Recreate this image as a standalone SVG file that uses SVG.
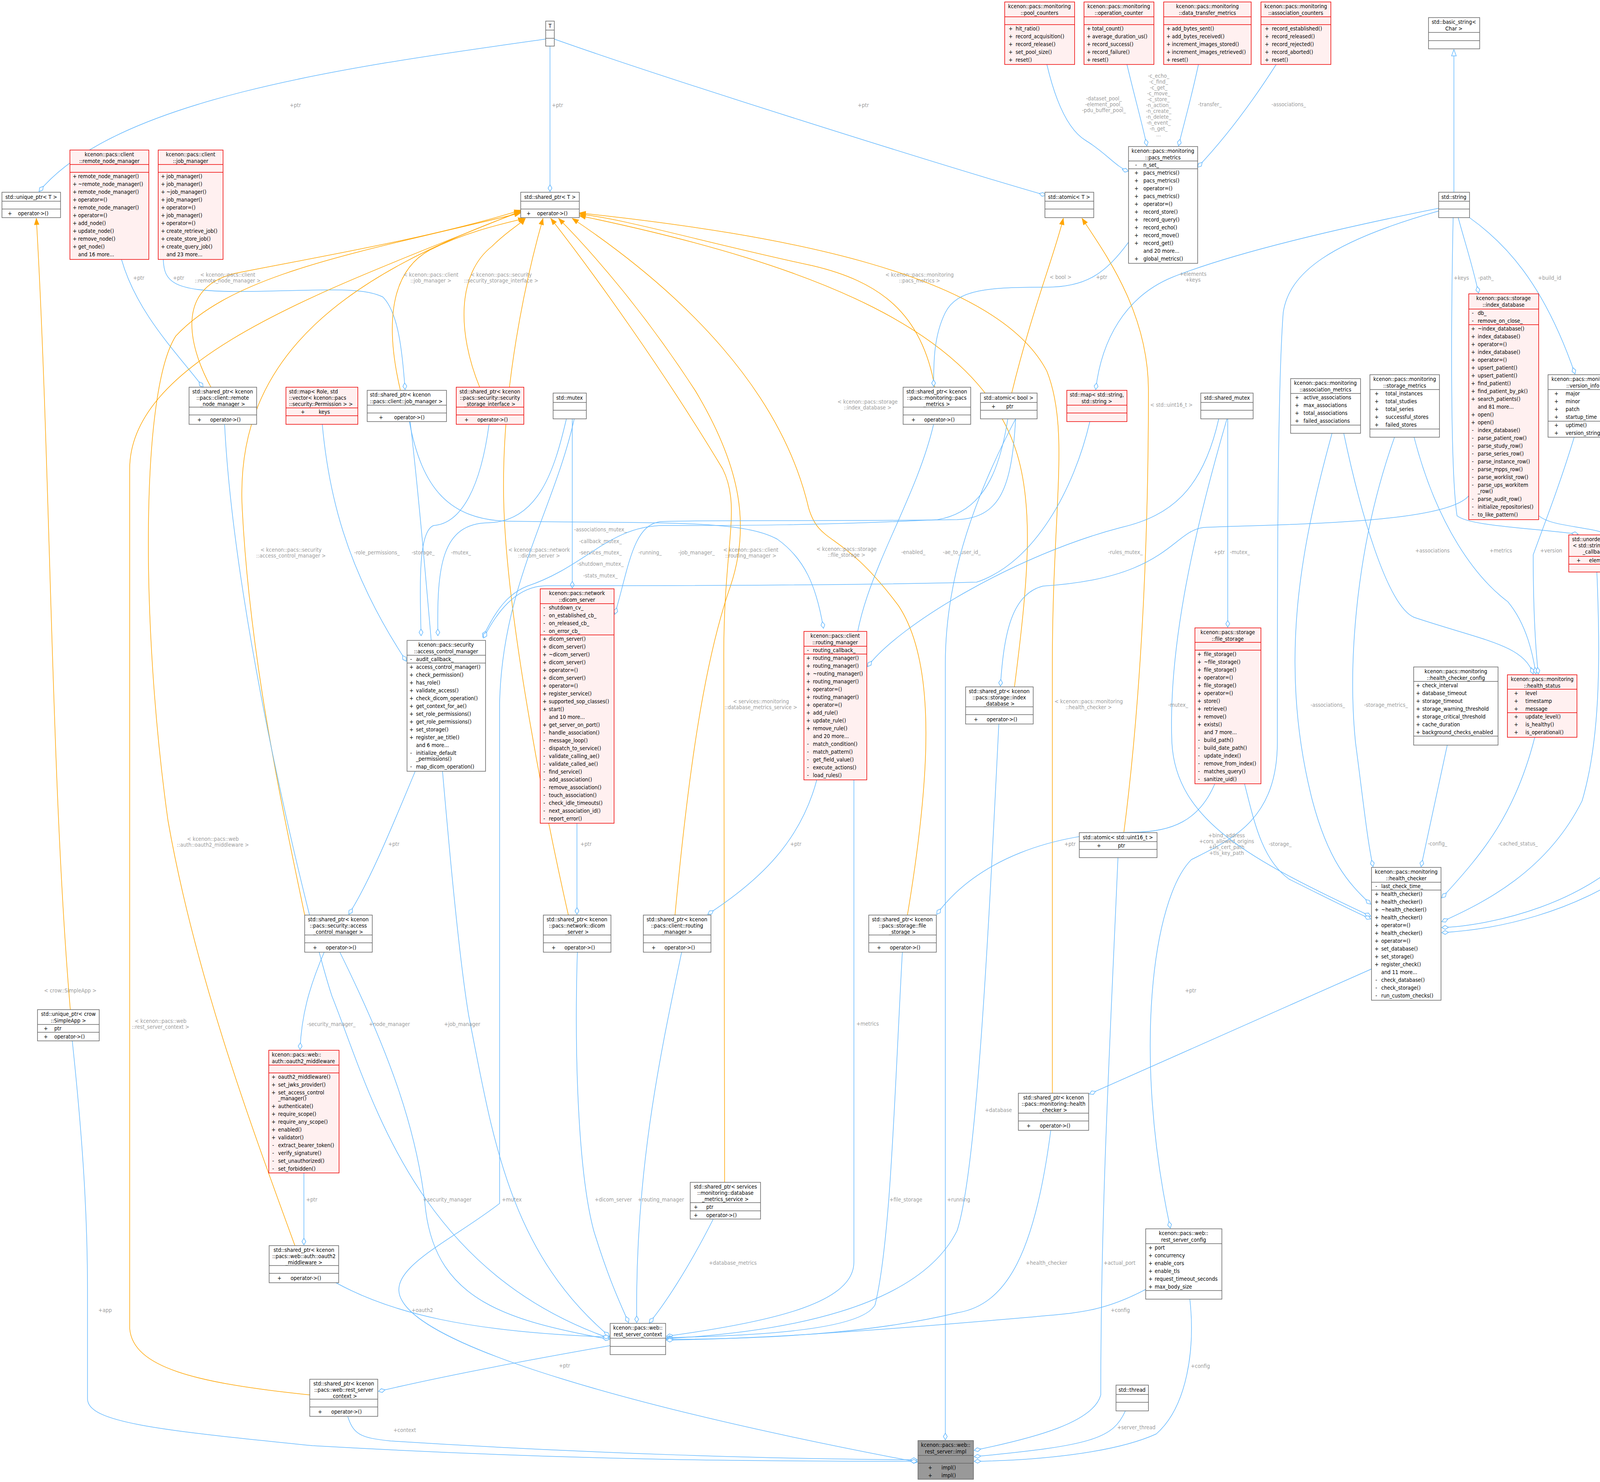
<svg xmlns="http://www.w3.org/2000/svg" width="4495" height="3793" viewBox="0 0 4495 3793">
<style>
text{font-family:"DejaVu Sans Condensed","DejaVu Sans",sans-serif;font-size:14px;fill:#000}
.t{text-anchor:middle}
.l{text-anchor:middle;fill:#9a9a9a;font-size:14px}
.b{fill:#fff;stroke:#666;stroke-width:1.5}
.r{fill:#fff0f0;stroke:#e00;stroke-width:1.5}
.g{fill:#999;stroke:#666;stroke-width:1.5}
.d{stroke:#666;stroke-width:1.5}
.dr{stroke:#e00;stroke-width:1.5}
#edges path{fill:none;stroke-width:1.5}
.a{stroke:#63b8ff;marker-end:url(#dia)}
.o{stroke:#ffa500;marker-end:url(#arr)}
.i{stroke:#63b8ff;marker-end:url(#inh)}
</style>
<defs>
<marker id="dia" markerUnits="userSpaceOnUse" markerWidth="20" markerHeight="12" refX="18" refY="6" orient="auto"><path d="M1,6 L9.5,1 L18,6 L9.5,11 Z" fill="#fff" stroke="#63b8ff" stroke-width="1.5"/></marker>
<marker id="arr" markerUnits="userSpaceOnUse" markerWidth="18" markerHeight="14" refX="17" refY="7" orient="auto"><path d="M1,1 L17,7 L1,13 Z" fill="#ffa500" stroke="#ffa500"/></marker>
<marker id="inh" markerUnits="userSpaceOnUse" markerWidth="18" markerHeight="14" refX="17" refY="7" orient="auto"><path d="M1,1 L17,7 L1,13 Z" fill="#fff" stroke="#63b8ff" stroke-width="1.5"/></marker>
</defs>
<rect width="4495" height="3793" fill="#fff"/>
<g id="edges">
<path class="a" d="M1397,100 C900,170 300,250 100,490"/><text class="l" x="756" y="274">+ptr</text>
<path class="a" d="M1408,118 L1408,490"/><text class="l" x="1427" y="274">+ptr</text>
<path class="a" d="M1419,100 C1700,200 2400,420 2677,500"/><text class="l" x="2210" y="274">+ptr</text>
<path class="o" d="M180,2584 C130,2000 130,1200 93,559"/><text class="l" x="180" y="2540">&lt; crow::SimpleApp &gt;</text>
<path class="a" d="M311,664 C350,800 450,900 520,991"/><text class="l" x="355" y="716">+ptr</text>
<path class="a" d="M418,664 C420,720 440,745 600,746 C800,746 920,730 980,760 C1020,800 1030,900 1037,997"/><text class="l" x="457" y="716">+ptr</text>
<path class="o" d="M540,991 C490,900 440,740 600,700 C800,660 1100,610 1333,538"/><text class="l" x="583" y="708">&lt; kcenon::pacs::client</text><text class="l" x="583" y="723">::remote_node_manager &gt;</text>
<path class="o" d="M1025,999 C990,850 990,700 1100,640 C1200,590 1300,570 1343,559"/><text class="l" x="1103" y="708">&lt; kcenon::pacs::client</text><text class="l" x="1103" y="723">::job_manager &gt;</text>
<path class="o" d="M1228,991 C1170,850 1170,700 1260,630 C1300,590 1330,575 1345,559"/><text class="l" x="1283" y="708">&lt; kcenon::pacs::security</text><text class="l" x="1283" y="723">::security_storage_interface &gt;</text>
<path class="o" d="M780,2342 C730,2100 640,1700 620,1300 C600,900 900,700 1333,542"/><text class="l" x="745" y="1412">&lt; kcenon::pacs::security</text><text class="l" x="745" y="1427">::access_control_manager &gt;</text>
<path class="o" d="M1455,2342 C1400,2100 1300,1600 1290,1300 C1280,1000 1350,700 1390,559"/><text class="l" x="1380" y="1412">&lt; kcenon::pacs::network</text><text class="l" x="1380" y="1427">::dicom_server &gt;</text>
<path class="o" d="M1728,2342 C1760,2000 1800,1700 1870,1500 C1920,1350 1900,1200 1780,1000 C1650,800 1520,650 1430,559"/><text class="l" x="1922" y="1412">&lt; kcenon::pacs::client</text><text class="l" x="1922" y="1427">::routing_manager &gt;</text>
<path class="o" d="M2323,2342 C2380,2000 2400,1700 2300,1550 C2150,1350 2100,1400 2070,1300 C2000,1000 1750,750 1465,559"/><text class="l" x="2167" y="1410">&lt; kcenon::pacs::storage</text><text class="l" x="2167" y="1425">::file_storage &gt;</text>
<path class="o" d="M2597,1758 C2630,1500 2650,1300 2600,1150 C2500,850 2100,680 1483,552"/><text class="l" x="2221" y="1033">&lt; kcenon::pacs::storage</text><text class="l" x="2221" y="1048">::index_database &gt;</text>
<path class="o" d="M2393,991 C2360,800 2250,720 2080,680 C1800,620 1600,560 1483,548"/><text class="l" x="2354" y="708">&lt; kcenon::pacs::monitoring</text><text class="l" x="2354" y="723">::pacs_metrics &gt;</text>
<path class="o" d="M2694,2798 L2694,1700 C2694,1300 2740,1100 2680,950 C2550,700 2000,600 1483,545"/><text class="l" x="2787" y="1800">&lt; kcenon::pacs::monitoring</text><text class="l" x="2787" y="1815">::health_checker &gt;</text>
<path class="o" d="M1855,3026 L1853,1700 C1850,1400 1900,1300 1850,1200 C1700,950 1520,700 1410,559"/><text class="l" x="1948" y="1800">&lt; services::monitoring</text><text class="l" x="1948" y="1815">::database_metrics_service &gt;</text>
<path class="o" d="M793,3570 C500,3540 340,3500 332,3400 L332,1200 C332,900 900,720 1333,540"/><text class="l" x="411" y="2618">&lt; kcenon::pacs::web</text><text class="l" x="411" y="2633">::rest_server_context &gt;</text>
<path class="o" d="M755,3188 C650,2900 500,2500 430,2100 C360,1600 360,1000 450,860 C600,700 900,650 1333,545"/><text class="l" x="545" y="2152">&lt; kcenon::pacs::web</text><text class="l" x="545" y="2167">::auth::oauth2_middleware &gt;</text>
<path class="o" d="M2590,1006 C2640,800 2700,650 2722,559"/><text class="l" x="2715" y="714">&lt; bool &gt;</text>
<path class="o" d="M2877,2131 C2920,1800 2940,1400 2940,1000 C2940,800 2830,650 2770,559"/><text class="l" x="2999" y="1041">&lt; std::uint16_t &gt;</text>
<path class="a" d="M2680,165 C2700,250 2730,330 2780,360 C2830,390 2860,430 2889,438"/><text class="l" x="2826" y="257">-dataset_pool_</text><text class="l" x="2826" y="272">-element_pool_</text><text class="l" x="2826" y="287">-pdu_buffer_pool_</text>
<path class="a" d="M2885,165 C2905,250 2925,320 2936,373"/>
<text class="l" x="2966" y="199">-c_echo_</text><text class="l" x="2966" y="214">-c_find_</text><text class="l" x="2966" y="229">-c_get_</text><text class="l" x="2966" y="244">-c_move_</text><text class="l" x="2966" y="259">-c_store_</text><text class="l" x="2966" y="274">-n_action_</text><text class="l" x="2966" y="289">-n_create_</text><text class="l" x="2966" y="304">-n_delete_</text><text class="l" x="2966" y="319">-n_event_</text><text class="l" x="2966" y="334">-n_get_</text><text class="l" x="2966" y="349">...</text>
<path class="a" d="M3068,165 C3050,250 3030,320 3017,373"/><text class="l" x="3097" y="272">-transfer_</text>
<path class="a" d="M3267,165 C3200,270 3130,360 3066,428"/><text class="l" x="3299" y="272">-associations_</text>
<path class="a" d="M2889,620 C2830,700 2780,735 2680,735 C2530,735 2450,740 2420,800 C2390,860 2390,930 2390,989"/><text class="l" x="2820" y="714">+ptr</text>
<path class="i" d="M3722,492 L3722,127"/>
<path class="a" d="M3733,557 C3750,620 3770,680 3785,750"/><text class="l" x="3804" y="716">-path_</text>
<path class="a" d="M3762,557 C3850,620 3950,720 4032,957"/><text class="l" x="3967" y="716">+build_id</text>
<path class="a" d="M3683,533 C3400,590 3150,650 3000,710 C2880,760 2820,870 2805,997"/><text class="l" x="3054" y="706">+elements</text><text class="l" x="3054" y="721">+keys</text>
<path class="a" d="M3720,557 C3715,800 3712,1200 3730,1320 C3760,1345 3900,1350 4040,1367"/><text class="l" x="3741" y="716">+keys</text>
<path class="a" d="M3683,540 C3400,620 3300,700 3285,800 C3270,1000 3270,1500 3270,1900 C3270,2100 3150,2150 3050,2200 C2950,2300 2900,2700 2996,3143"/><text class="l" x="3140" y="2143">+bind_address</text><text class="l" x="3140" y="2158">+cors_allowed_origins</text><text class="l" x="3140" y="2173">+tls_cert_path</text><text class="l" x="3140" y="2188">+tls_key_path</text>
<path class="a" d="M3141,1072 C3060,1350 2990,1650 3000,1900 C3010,2100 3200,2200 3509,2345"/><text class="l" x="3016" y="1809">-mutex_</text>
<path class="a" d="M3143,1072 L3143,1605"/><text class="l" x="3174" y="1418">-mutex_</text>
<path class="a" d="M3760,1269 C3700,1340 3300,1341 3081,1350 C3000,1360 2990,1480 2670,1500 C2590,1520 2570,1620 2561,1756"/><text class="l" x="3121" y="1418">+ptr</text>
<path class="a" d="M3120,1072 C3080,1250 3000,1320 2870,1350 C2600,1420 2300,1600 2221,1706"/><text class="l" x="2881" y="1418">-rules_mutex_</text>
<path class="a" d="M1450,1072 C1420,1200 1380,1335 1250,1338 C1130,1340 1118,1450 1121,1627"/><text class="l" x="1180" y="1419">-mutex_</text>
<path class="a" d="M1465,1072 L1465,1505"/><text class="l" x="1537" y="1360">-associations_mutex_</text><text class="l" x="1537" y="1390">-callback_mutex_</text><text class="l" x="1537" y="1419">-services_mutex_</text><text class="l" x="1537" y="1448">-shutdown_mutex_</text><text class="l" x="1537" y="1478">-stats_mutex_</text>
<path class="a" d="M1470,1072 C1420,1300 1285,1500 1279,1800 L1279,3080 C1150,3180 980,3250 1030,3330 C1100,3450 1600,3600 2348,3742"/><text class="l" x="1310" y="3075">+mutex</text>
<path class="a" d="M1063,1974 C1010,2100 950,2250 893,2340"/><text class="l" x="1008" y="2165">+ptr</text>
<path class="a" d="M825,1086 C840,1250 880,1450 1040,1692"/><text class="l" x="965" y="1419">-role_permissions_</text>
<path class="a" d="M1252,1086 C1230,1250 1180,1340 1110,1345 C1070,1360 1075,1500 1078,1627"/><text class="l" x="1083" y="1419">-storage_</text>
<path class="a" d="M2580,1072 C2560,1200 2520,1310 2400,1330 C2100,1345 1900,1345 1700,1345 C1560,1345 1500,1450 1350,1500 C1300,1520 1270,1560 1236,1631"/><text class="l" x="2338" y="1418">-enabled_</text>
<path class="a" d="M2790,1079 C2750,1250 2650,1440 2500,1490 C2100,1500 1600,1499 1400,1499 C1320,1499 1270,1570 1238,1633"/><text class="l" x="2462" y="1418">-ae_to_user_id_</text>
<path class="a" d="M2600,1072 C2590,1250 2560,1325 2450,1330 C2100,1335 1800,1330 1690,1335 C1620,1345 1610,1450 1574,1572"/><text class="l" x="1664" y="1419">-running_</text>
<path class="a" d="M1048,1079 C1080,1250 1150,1330 1300,1334 C1700,1340 1900,1330 1990,1380 C2060,1430 2090,1500 2108,1608"/><text class="l" x="1783" y="1419">-job_manager_</text>
<path class="a" d="M2600,1072 C2480,1300 2420,1500 2420,1700 L2420,3685"/><text class="l" x="2454" y="3075">+running</text>
<path class="a" d="M1050,1079 C1100,1500 1150,2300 1200,2600 C1260,2900 1300,3200 1560,3420"/><text class="l" x="1183" y="2626">+job_manager</text>
<path class="a" d="M575,1086 C600,1600 800,2400 850,2550 C950,2800 1060,3250 1560,3425"/><text class="l" x="997" y="2626">+node_manager</text>
<path class="a" d="M870,2437 C1000,2700 1070,2900 1090,3100 C1120,3330 1300,3380 1560,3428"/><text class="l" x="1145" y="3075">+security_manager</text>
<path class="a" d="M830,2437 C790,2530 772,2600 768,2686"/><text class="l" x="848" y="2626">-security_manager_</text>
<path class="a" d="M778,3002 L778,3186"/><text class="l" x="798" y="3075">+ptr</text>
<path class="a" d="M860,3283 C1000,3360 1200,3410 1560,3422"/><text class="l" x="1081" y="3358">+oauth2</text>
<path class="a" d="M1478,2437 C1470,2700 1480,3000 1520,3150 C1560,3280 1590,3340 1609,3385"/><text class="l" x="1570" y="3075">+dicom_server</text>
<path class="a" d="M1745,2437 C1690,2700 1625,3000 1630,3385"/><text class="l" x="1692" y="3075">+routing_manager</text>
<path class="a" d="M1826,3120 C1760,3250 1700,3340 1662,3386"/><text class="l" x="1876" y="3237">+database_metrics</text>
<path class="a" d="M2390,1086 C2340,1300 2190,1500 2186,1700 L2186,3230 C2186,3330 2000,3380 1706,3420"/><text class="l" x="2221" y="2625">+metrics</text>
<path class="a" d="M2310,2437 C2290,2800 2280,3180 2240,3340 C2200,3410 1900,3418 1706,3424"/><text class="l" x="2319" y="3075">+file_storage</text>
<path class="a" d="M2557,1853 C2530,2400 2500,3000 2450,3150 C2350,3350 2000,3410 1706,3426"/><text class="l" x="2556" y="2846">+database</text>
<path class="a" d="M2690,2893 C2650,3200 2580,3340 2450,3360 C2200,3420 1900,3427 1706,3428"/><text class="l" x="2679" y="3237">+health_checker</text>
<path class="a" d="M2933,3300 C2820,3360 2750,3360 2650,3370 C2300,3400 2000,3425 1706,3430"/><text class="l" x="2868" y="3358">+config</text>
<path class="a" d="M1562,3444 C1300,3490 1100,3530 969,3561"/><text class="l" x="1445" y="3500">+ptr</text>
<path class="a" d="M890,3625 C905,3670 920,3680 1000,3688 C1500,3720 2000,3735 2348,3736"/><text class="l" x="1036" y="3665">+context</text>
<path class="a" d="M185,2664 C210,2900 224,3100 224,3300 L224,3580 C224,3640 400,3660 800,3700 C1500,3740 2000,3740 2348,3740"/><text class="l" x="269" y="3358">+app</text>
<path class="a" d="M2862,2195 C2840,2700 2818,3100 2818,3570 C2800,3640 2650,3680 2494,3712"/><text class="l" x="2866" y="3237">+actual_port</text>
<path class="a" d="M2881,3611 C2850,3680 2800,3700 2494,3728"/><text class="l" x="2909" y="3658">+server_thread</text>
<path class="a" d="M3046,3325 C3060,3450 3040,3600 2960,3670 C2850,3720 2650,3738 2494,3740"/><text class="l" x="3073" y="3501">+config</text>
<path class="a" d="M3511,2480 C3200,2620 2950,2730 2789,2800"/><text class="l" x="3048" y="2540">+ptr</text>
<path class="a" d="M3110,2006 C3070,2100 3000,2130 2900,2130 C2700,2130 2500,2200 2398,2340"/><text class="l" x="2739" y="2165">+ptr</text>
<path class="a" d="M2091,1996 C2050,2150 1950,2250 1812,2340"/><text class="l" x="2037" y="2165">+ptr</text>
<path class="a" d="M1477,2107 L1477,2340"/><text class="l" x="1500" y="2165">+ptr</text>
<path class="a" d="M3705,1907 C3680,2020 3660,2120 3638,2218"/><text class="l" x="3680" y="2164">-config_</text>
<path class="a" d="M3929,1887 C3880,2080 3800,2180 3691,2298"/><text class="l" x="3886" y="2164">-cached_status_</text>
<path class="a" d="M4088,1464 C4098,1700 4095,1900 4050,2050 C3960,2230 3800,2310 3691,2359"/><text class="l" x="4152" y="1809">-custom_checks_</text>
<path class="a" d="M3939,1320 C4000,1370 4200,1320 4250,1500 C4300,1700 4300,2000 4220,2130 C4080,2320 3800,2370 3691,2374"/><text class="l" x="4302" y="1809">-database_</text>
<path class="a" d="M4121,1119 C4300,1350 4440,1600 4430,1800 C4400,2200 4000,2370 3691,2387"/><text class="l" x="4452" y="1809">-version_</text>
<path class="a" d="M3410,1109 C3330,1400 3270,1700 3360,2050 C3400,2200 3450,2260 3509,2314"/><text class="l" x="3399" y="1809">-associations_</text>
<path class="a" d="M3570,1119 C3470,1400 3450,1700 3470,1900 C3490,2050 3500,2150 3515,2218"/><text class="l" x="3548" y="1809">-storage_metrics_</text>
<path class="a" d="M3440,1109 C3480,1300 3550,1550 3620,1580 C3800,1640 3900,1650 3925,1725"/><text class="l" x="3667" y="1414">+associations</text>
<path class="a" d="M3620,1119 C3680,1350 3780,1480 3860,1540 C3910,1600 3925,1680 3932,1725"/><text class="l" x="3842" y="1414">+metrics</text>
<path class="a" d="M4030,1119 C3990,1250 3950,1350 3925,1420 C3925,1550 3930,1650 3938,1725"/><text class="l" x="3971" y="1414">+version</text>
<path class="a" d="M3186,2006 C3210,2100 3230,2200 3300,2250 C3400,2300 3460,2330 3509,2352"/><text class="l" x="3277" y="2165">-storage_</text>
</g>
<g id="n_T"><rect class="b" x="1397" y="54" width="22" height="64"/><text class="t" x="1408" y="71">T</text><line class="d" x1="1397" y1="77" x2="1419" y2="77"/><line class="d" x1="1397" y1="98" x2="1419" y2="98"/></g>
<g id="n_unique_ptr_T"><rect class="b" x="5" y="492" width="150" height="65"/><text class="t" x="80" y="509">std::unique_ptr&lt; T &gt;</text><line class="d" x1="5" y1="515" x2="155" y2="515"/><line class="d" x1="5" y1="535" x2="155" y2="535"/><text x="20" y="551">+</text><text x="46" y="551">operator-&gt;()</text></g>
<g id="n_remote_node_manager"><rect class="r" x="179" y="384" width="202" height="280"/><text class="t" x="280" y="400">kcenon::pacs::client</text><text class="t" x="280" y="417">::remote_node_manager</text><line class="dr" x1="179" y1="421" x2="381" y2="421"/><line class="dr" x1="179" y1="441" x2="381" y2="441"/>
<text x="186" y="456">+</text><text x="200" y="456">remote_node_manager()</text><text x="186" y="476">+</text><text x="200" y="476">~remote_node_manager()</text><text x="186" y="496">+</text><text x="200" y="496">remote_node_manager()</text><text x="186" y="516">+</text><text x="200" y="516">operator=()</text><text x="186" y="536">+</text><text x="200" y="536">remote_node_manager()</text><text x="186" y="556">+</text><text x="200" y="556">operator=()</text><text x="186" y="576">+</text><text x="200" y="576">add_node()</text><text x="186" y="596">+</text><text x="200" y="596">update_node()</text><text x="186" y="616">+</text><text x="200" y="616">remove_node()</text><text x="186" y="636">+</text><text x="200" y="636">get_node()</text><text x="200" y="656">and 16 more...</text></g>
<g id="n_job_manager"><rect class="r" x="405" y="384" width="166" height="280"/><text class="t" x="488" y="400">kcenon::pacs::client</text><text class="t" x="488" y="417">::job_manager</text><line class="dr" x1="405" y1="421" x2="571" y2="421"/><line class="dr" x1="405" y1="441" x2="571" y2="441"/>
<text x="412" y="456">+</text><text x="426" y="456">job_manager()</text><text x="412" y="476">+</text><text x="426" y="476">job_manager()</text><text x="412" y="496">+</text><text x="426" y="496">~job_manager()</text><text x="412" y="516">+</text><text x="426" y="516">job_manager()</text><text x="412" y="536">+</text><text x="426" y="536">operator=()</text><text x="412" y="556">+</text><text x="426" y="556">job_manager()</text><text x="412" y="576">+</text><text x="426" y="576">operator=()</text><text x="412" y="596">+</text><text x="426" y="596">create_retrieve_job()</text><text x="412" y="616">+</text><text x="426" y="616">create_store_job()</text><text x="412" y="636">+</text><text x="426" y="636">create_query_job()</text><text x="426" y="656">and 23 more...</text></g>
<g id="n_shared_ptr_T"><rect class="b" x="1333" y="492" width="150" height="65"/><text class="t" x="1408" y="509">std::shared_ptr&lt; T &gt;</text><line class="d" x1="1333" y1="515" x2="1483" y2="515"/><line class="d" x1="1333" y1="535" x2="1483" y2="535"/><text x="1348" y="551">+</text><text x="1375" y="551">operator-&gt;()</text></g>
<g id="n_pool_counters"><rect class="r" x="2572" y="5" width="179" height="160"/><text class="t" x="2661" y="21">kcenon::pacs::monitoring</text><text class="t" x="2661" y="38">::pool_counters</text><line class="dr" x1="2572" y1="43" x2="2751" y2="43"/><line class="dr" x1="2572" y1="63" x2="2751" y2="63"/>
<text x="2582" y="78">+</text><text x="2600" y="78">hit_ratio()</text><text x="2582" y="98">+</text><text x="2600" y="98">record_acquisition()</text><text x="2582" y="118">+</text><text x="2600" y="118">record_release()</text><text x="2582" y="138">+</text><text x="2600" y="138">set_pool_size()</text><text x="2582" y="158">+</text><text x="2600" y="158">reset()</text></g>
<g id="n_operation_counter"><rect class="r" x="2775" y="5" width="179" height="160"/><text class="t" x="2864" y="21">kcenon::pacs::monitoring</text><text class="t" x="2864" y="38">::operation_counter</text><line class="dr" x1="2775" y1="43" x2="2954" y2="43"/><line class="dr" x1="2775" y1="63" x2="2954" y2="63"/>
<text x="2782" y="78">+</text><text x="2796" y="78">total_count()</text><text x="2782" y="98">+</text><text x="2796" y="98">average_duration_us()</text><text x="2782" y="118">+</text><text x="2796" y="118">record_success()</text><text x="2782" y="138">+</text><text x="2796" y="138">record_failure()</text><text x="2782" y="158">+</text><text x="2796" y="158">reset()</text></g>
<g id="n_data_transfer_metrics"><rect class="r" x="2979" y="5" width="224" height="160"/><text class="t" x="3091" y="21">kcenon::pacs::monitoring</text><text class="t" x="3091" y="38">::data_transfer_metrics</text><line class="dr" x1="2979" y1="43" x2="3203" y2="43"/><line class="dr" x1="2979" y1="63" x2="3203" y2="63"/>
<text x="2986" y="78">+</text><text x="3000" y="78">add_bytes_sent()</text><text x="2986" y="98">+</text><text x="3000" y="98">add_bytes_received()</text><text x="2986" y="118">+</text><text x="3000" y="118">increment_images_stored()</text><text x="2986" y="138">+</text><text x="3000" y="138">increment_images_retrieved()</text><text x="2986" y="158">+</text><text x="3000" y="158">reset()</text></g>
<g id="n_association_counters"><rect class="r" x="3228" y="5" width="179" height="160"/><text class="t" x="3317" y="21">kcenon::pacs::monitoring</text><text class="t" x="3317" y="38">::association_counters</text><line class="dr" x1="3228" y1="43" x2="3407" y2="43"/><line class="dr" x1="3228" y1="63" x2="3407" y2="63"/>
<text x="3238" y="78">+</text><text x="3256" y="78">record_established()</text><text x="3238" y="98">+</text><text x="3256" y="98">record_released()</text><text x="3238" y="118">+</text><text x="3256" y="118">record_rejected()</text><text x="3238" y="138">+</text><text x="3256" y="138">record_aborted()</text><text x="3238" y="158">+</text><text x="3256" y="158">reset()</text></g>
<g id="n_pacs_metrics"><rect class="b" x="2889" y="375" width="177" height="299"/><text class="t" x="2977" y="391">kcenon::pacs::monitoring</text><text class="t" x="2977" y="408">::pacs_metrics</text><line class="d" x1="2889" y1="412" x2="3066" y2="412"/><line class="d" x1="2889" y1="432" x2="3066" y2="432"/>
<text x="2906" y="427">-</text><text x="2927" y="427">n_set_</text>
<text x="2904" y="447">+</text><text x="2927" y="447">pacs_metrics()</text><text x="2904" y="467">+</text><text x="2927" y="467">pacs_metrics()</text><text x="2904" y="487">+</text><text x="2927" y="487">operator=()</text><text x="2904" y="507">+</text><text x="2927" y="507">pacs_metrics()</text><text x="2904" y="527">+</text><text x="2927" y="527">operator=()</text><text x="2904" y="547">+</text><text x="2927" y="547">record_store()</text><text x="2904" y="567">+</text><text x="2927" y="567">record_query()</text><text x="2904" y="587">+</text><text x="2927" y="587">record_echo()</text><text x="2904" y="607">+</text><text x="2927" y="607">record_move()</text><text x="2904" y="627">+</text><text x="2927" y="627">record_get()</text><text x="2927" y="647">and 20 more...</text><text x="2904" y="667">+</text><text x="2927" y="667">global_metrics()</text></g>
<g id="n_atomic_T"><rect class="b" x="2675" y="492" width="125" height="65"/><text class="t" x="2737" y="509">std::atomic&lt; T &gt;</text><line class="d" x1="2675" y1="515" x2="2800" y2="515"/><line class="d" x1="2675" y1="535" x2="2800" y2="535"/></g>
<g id="n_basic_string"><rect class="b" x="3657" y="45" width="131" height="80"/><text class="t" x="3722" y="61">std::basic_string&lt;</text><text class="t" x="3722" y="78">Char &gt;</text><line class="d" x1="3657" y1="83" x2="3788" y2="83"/><line class="d" x1="3657" y1="104" x2="3788" y2="104"/></g>
<g id="n_string"><rect class="b" x="3683" y="492" width="79" height="65"/><text class="t" x="3722" y="509">std::string</text><line class="d" x1="3683" y1="515" x2="3762" y2="515"/><line class="d" x1="3683" y1="535" x2="3762" y2="535"/></g>
<g id="n_sp_rnm"><rect class="b" x="484" y="991" width="173" height="95"/><text class="t" x="570" y="1007">std::shared_ptr&lt; kcenon</text><text class="t" x="570" y="1023">::pacs::client::remote</text><text class="t" x="570" y="1039">_node_manager &gt;</text><line class="d" x1="484" y1="1042" x2="657" y2="1042"/><line class="d" x1="484" y1="1062" x2="657" y2="1062"/><text x="505" y="1079">+</text><text x="538" y="1079">operator-&gt;()</text></g>
<g id="n_map_role"><rect class="r" x="732" y="991" width="184" height="95"/><text x="740" y="1007">std::map&lt; Role, std</text><text x="740" y="1023">::vector&lt; kcenon::pacs</text><text x="740" y="1039">::security::Permission &gt; &gt;</text><line class="dr" x1="732" y1="1044" x2="916" y2="1044"/><line class="dr" x1="732" y1="1064" x2="916" y2="1064"/><text x="770" y="1059">+</text><text x="816" y="1059">keys</text></g>
<g id="n_sp_jm"><rect class="b" x="940" y="999" width="203" height="80"/><text x="947" y="1015">std::shared_ptr&lt; kcenon</text><text x="947" y="1032">::pacs::client::job_manager &gt;</text><line class="d" x1="940" y1="1037" x2="1143" y2="1037"/><line class="d" x1="940" y1="1057" x2="1143" y2="1057"/><text x="970" y="1073">+</text><text x="1009" y="1073">operator-&gt;()</text></g>
<g id="n_sp_ssi"><rect class="r" x="1168" y="991" width="173" height="95"/><text class="t" x="1254" y="1007">std::shared_ptr&lt; kcenon</text><text class="t" x="1254" y="1023">::pacs::security::security</text><text class="t" x="1254" y="1039">_storage_interface &gt;</text><line class="dr" x1="1168" y1="1042" x2="1341" y2="1042"/><line class="dr" x1="1168" y1="1062" x2="1341" y2="1062"/><text x="1189" y="1079">+</text><text x="1222" y="1079">operator-&gt;()</text></g>
<g id="n_mutex"><rect class="b" x="1416" y="1006" width="85" height="66"/><text class="t" x="1458" y="1023">std::mutex</text><line class="d" x1="1416" y1="1030" x2="1501" y2="1030"/><line class="d" x1="1416" y1="1050" x2="1501" y2="1050"/></g>
<g id="n_sp_pacs_metrics"><rect class="b" x="2312" y="991" width="173" height="95"/><text class="t" x="2398" y="1007">std::shared_ptr&lt; kcenon</text><text class="t" x="2398" y="1023">::pacs::monitoring::pacs</text><text class="t" x="2398" y="1039">_metrics &gt;</text><line class="d" x1="2312" y1="1042" x2="2485" y2="1042"/><line class="d" x1="2312" y1="1062" x2="2485" y2="1062"/><text x="2333" y="1079">+</text><text x="2366" y="1079">operator-&gt;()</text></g>
<g id="n_atomic_bool"><rect class="b" x="2510" y="1006" width="145" height="66"/><text class="t" x="2582" y="1023">std::atomic&lt; bool &gt;</text><line class="d" x1="2510" y1="1030" x2="2655" y2="1030"/><line class="d" x1="2510" y1="1050" x2="2655" y2="1050"/><text x="2538" y="1045">+</text><text x="2576" y="1045">ptr</text></g>
<g id="n_map_ss"><rect class="r" x="2731" y="999" width="154" height="80"/><text class="t" x="2808" y="1015">std::map&lt; std::string,</text><text class="t" x="2808" y="1032">std::string &gt;</text><line class="dr" x1="2731" y1="1037" x2="2885" y2="1037"/><line class="dr" x1="2731" y1="1057" x2="2885" y2="1057"/></g>
<g id="n_shared_mutex"><rect class="b" x="3074" y="1006" width="134" height="66"/><text class="t" x="3141" y="1023">std::shared_mutex</text><line class="d" x1="3074" y1="1030" x2="3208" y2="1030"/><line class="d" x1="3074" y1="1050" x2="3208" y2="1050"/></g>
<g id="n_association_metrics"><rect class="b" x="3304" y="969" width="179" height="140"/><text class="t" x="3393" y="985">kcenon::pacs::monitoring</text><text class="t" x="3393" y="1002">::association_metrics</text><line class="d" x1="3304" y1="1007" x2="3483" y2="1007"/><line class="d" x1="3304" y1="1088" x2="3483" y2="1088"/>
<text x="3315" y="1022">+</text><text x="3337" y="1022">active_associations</text><text x="3315" y="1042">+</text><text x="3337" y="1042">max_associations</text><text x="3315" y="1062">+</text><text x="3337" y="1062">total_associations</text><text x="3315" y="1082">+</text><text x="3337" y="1082">failed_associations</text></g>
<g id="n_storage_metrics"><rect class="b" x="3507" y="959" width="178" height="160"/><text class="t" x="3596" y="975">kcenon::pacs::monitoring</text><text class="t" x="3596" y="992">::storage_metrics</text><line class="d" x1="3507" y1="997" x2="3685" y2="997"/><line class="d" x1="3507" y1="1098" x2="3685" y2="1098"/>
<text x="3519" y="1012">+</text><text x="3547" y="1012">total_instances</text><text x="3519" y="1032">+</text><text x="3547" y="1032">total_studies</text><text x="3519" y="1052">+</text><text x="3547" y="1052">total_series</text><text x="3519" y="1072">+</text><text x="3547" y="1072">successful_stores</text><text x="3519" y="1092">+</text><text x="3547" y="1092">failed_stores</text></g>
<g id="n_index_database"><rect class="r" x="3760" y="752" width="179" height="578"/><text class="t" x="3849" y="768">kcenon::pacs::storage</text><text class="t" x="3849" y="785">::index_database</text><line class="dr" x1="3760" y1="791" x2="3939" y2="791"/><line class="dr" x1="3760" y1="831" x2="3939" y2="831"/>
<text x="3768" y="806">-</text><text x="3783" y="806">db_</text><text x="3768" y="826">-</text><text x="3783" y="826">remove_on_close_</text>
<text x="3766" y="846">+</text><text x="3783" y="846">~index_database()</text><text x="3766" y="866">+</text><text x="3783" y="866">index_database()</text><text x="3766" y="886">+</text><text x="3783" y="886">operator=()</text><text x="3766" y="906">+</text><text x="3783" y="906">index_database()</text><text x="3766" y="926">+</text><text x="3783" y="926">operator=()</text><text x="3766" y="946">+</text><text x="3783" y="946">upsert_patient()</text><text x="3766" y="966">+</text><text x="3783" y="966">upsert_patient()</text><text x="3766" y="986">+</text><text x="3783" y="986">find_patient()</text><text x="3766" y="1006">+</text><text x="3783" y="1006">find_patient_by_pk()</text><text x="3766" y="1026">+</text><text x="3783" y="1026">search_patients()</text><text x="3783" y="1046">and 81 more...</text><text x="3766" y="1066">+</text><text x="3783" y="1066">open()</text><text x="3766" y="1086">+</text><text x="3783" y="1086">open()</text><text x="3768" y="1106">-</text><text x="3783" y="1106">index_database()</text><text x="3768" y="1126">-</text><text x="3783" y="1126">parse_patient_row()</text><text x="3768" y="1146">-</text><text x="3783" y="1146">parse_study_row()</text><text x="3768" y="1166">-</text><text x="3783" y="1166">parse_series_row()</text><text x="3768" y="1186">-</text><text x="3783" y="1186">parse_instance_row()</text><text x="3768" y="1206">-</text><text x="3783" y="1206">parse_mpps_row()</text><text x="3768" y="1226">-</text><text x="3783" y="1226">parse_worklist_row()</text><text x="3768" y="1246">-</text><text x="3783" y="1246">parse_ups_workitem</text><text x="3783" y="1262">_row()</text><text x="3768" y="1282">-</text><text x="3783" y="1282">parse_audit_row()</text><text x="3768" y="1302">-</text><text x="3783" y="1302">initialize_repositories()</text><text x="3768" y="1322">-</text><text x="3783" y="1322">to_like_pattern()</text></g>
<g id="n_version_info"><rect class="b" x="3963" y="959" width="178" height="160"/><text class="t" x="4052" y="975">kcenon::pacs::monitoring</text><text class="t" x="4052" y="992">::version_info</text><line class="d" x1="3963" y1="997" x2="4141" y2="997"/><line class="d" x1="3963" y1="1078" x2="4141" y2="1078"/>
<text x="3979" y="1012">+</text><text x="4008" y="1012">major</text><text x="3979" y="1032">+</text><text x="4008" y="1032">minor</text><text x="3979" y="1052">+</text><text x="4008" y="1052">patch</text><text x="3979" y="1072">+</text><text x="4008" y="1072">startup_time</text><text x="3979" y="1093">+</text><text x="4008" y="1093">uptime()</text><text x="3979" y="1113">+</text><text x="4008" y="1113">version_string()</text></g>
<g id="n_unordered_map"><rect class="r" x="4016" y="1369" width="144" height="95"/><text class="t" x="4088" y="1385">std::unordered_map</text><text class="t" x="4088" y="1401">&lt; std::string, check</text><text class="t" x="4088" y="1417">_callback &gt;</text><line class="dr" x1="4016" y1="1424" x2="4160" y2="1424"/><line class="dr" x1="4016" y1="1444" x2="4160" y2="1444"/><text x="4036" y="1439">+</text><text x="4068" y="1439">elements</text></g>
<g id="n_access_control_manager"><rect class="b" x="1042" y="1639" width="201" height="335"/><text class="t" x="1142" y="1655">kcenon::pacs::security</text><text class="t" x="1142" y="1672">::access_control_manager</text><line class="d" x1="1042" y1="1677" x2="1243" y2="1677"/><line class="d" x1="1042" y1="1697" x2="1243" y2="1697"/>
<text x="1050" y="1692">-</text><text x="1065" y="1692">audit_callback_</text>
<text x="1048" y="1712">+</text><text x="1065" y="1712">access_control_manager()</text><text x="1048" y="1732">+</text><text x="1065" y="1732">check_permission()</text><text x="1048" y="1752">+</text><text x="1065" y="1752">has_role()</text><text x="1048" y="1772">+</text><text x="1065" y="1772">validate_access()</text><text x="1048" y="1792">+</text><text x="1065" y="1792">check_dicom_operation()</text><text x="1048" y="1812">+</text><text x="1065" y="1812">get_context_for_ae()</text><text x="1048" y="1832">+</text><text x="1065" y="1832">set_role_permissions()</text><text x="1048" y="1852">+</text><text x="1065" y="1852">get_role_permissions()</text><text x="1048" y="1872">+</text><text x="1065" y="1872">set_storage()</text><text x="1048" y="1892">+</text><text x="1065" y="1892">register_ae_title()</text><text x="1065" y="1912">and 6 more...</text><text x="1050" y="1932">-</text><text x="1065" y="1932">initialize_default</text><text x="1065" y="1947">_permissions()</text><text x="1050" y="1967">-</text><text x="1065" y="1967">map_dicom_operation()</text></g>
<g id="n_dicom_server"><rect class="r" x="1383" y="1507" width="189" height="600"/><text class="t" x="1477" y="1523">kcenon::pacs::network</text><text class="t" x="1477" y="1540">::dicom_server</text><line class="dr" x1="1383" y1="1545" x2="1572" y2="1545"/><line class="dr" x1="1383" y1="1625" x2="1572" y2="1625"/>
<text x="1391" y="1560">-</text><text x="1405" y="1560">shutdown_cv_</text><text x="1391" y="1580">-</text><text x="1405" y="1580">on_established_cb_</text><text x="1391" y="1600">-</text><text x="1405" y="1600">on_released_cb_</text><text x="1391" y="1620">-</text><text x="1405" y="1620">on_error_cb_</text>
<text x="1389" y="1640">+</text><text x="1405" y="1640">dicom_server()</text><text x="1389" y="1660">+</text><text x="1405" y="1660">dicom_server()</text><text x="1389" y="1680">+</text><text x="1405" y="1680">~dicom_server()</text><text x="1389" y="1700">+</text><text x="1405" y="1700">dicom_server()</text><text x="1389" y="1720">+</text><text x="1405" y="1720">operator=()</text><text x="1389" y="1740">+</text><text x="1405" y="1740">dicom_server()</text><text x="1389" y="1760">+</text><text x="1405" y="1760">operator=()</text><text x="1389" y="1780">+</text><text x="1405" y="1780">register_service()</text><text x="1389" y="1800">+</text><text x="1405" y="1800">supported_sop_classes()</text><text x="1389" y="1820">+</text><text x="1405" y="1820">start()</text><text x="1405" y="1840">and 10 more...</text><text x="1389" y="1860">+</text><text x="1405" y="1860">get_server_on_port()</text><text x="1391" y="1880">-</text><text x="1405" y="1880">handle_association()</text><text x="1391" y="1900">-</text><text x="1405" y="1900">message_loop()</text><text x="1391" y="1920">-</text><text x="1405" y="1920">dispatch_to_service()</text><text x="1391" y="1940">-</text><text x="1405" y="1940">validate_calling_ae()</text><text x="1391" y="1960">-</text><text x="1405" y="1960">validate_called_ae()</text><text x="1391" y="1980">-</text><text x="1405" y="1980">find_service()</text><text x="1391" y="2000">-</text><text x="1405" y="2000">add_association()</text><text x="1391" y="2020">-</text><text x="1405" y="2020">remove_association()</text><text x="1391" y="2040">-</text><text x="1405" y="2040">touch_association()</text><text x="1391" y="2060">-</text><text x="1405" y="2060">check_idle_timeouts()</text><text x="1391" y="2080">-</text><text x="1405" y="2080">next_association_id()</text><text x="1391" y="2100">-</text><text x="1405" y="2100">report_error()</text></g>
<g id="n_routing_manager"><rect class="r" x="2058" y="1616" width="161" height="380"/><text class="t" x="2138" y="1632">kcenon::pacs::client</text><text class="t" x="2138" y="1649">::routing_manager</text><line class="dr" x1="2058" y1="1654" x2="2219" y2="1654"/><line class="dr" x1="2058" y1="1674" x2="2219" y2="1674"/>
<text x="2066" y="1669">-</text><text x="2081" y="1669">routing_callback_</text>
<text x="2064" y="1689">+</text><text x="2081" y="1689">routing_manager()</text><text x="2064" y="1709">+</text><text x="2081" y="1709">routing_manager()</text><text x="2064" y="1729">+</text><text x="2081" y="1729">~routing_manager()</text><text x="2064" y="1749">+</text><text x="2081" y="1749">routing_manager()</text><text x="2064" y="1769">+</text><text x="2081" y="1769">operator=()</text><text x="2064" y="1789">+</text><text x="2081" y="1789">routing_manager()</text><text x="2064" y="1809">+</text><text x="2081" y="1809">operator=()</text><text x="2064" y="1829">+</text><text x="2081" y="1829">add_rule()</text><text x="2064" y="1849">+</text><text x="2081" y="1849">update_rule()</text><text x="2064" y="1869">+</text><text x="2081" y="1869">remove_rule()</text><text x="2081" y="1889">and 20 more...</text><text x="2066" y="1909">-</text><text x="2081" y="1909">match_condition()</text><text x="2066" y="1929">-</text><text x="2081" y="1929">match_pattern()</text><text x="2066" y="1949">-</text><text x="2081" y="1949">get_field_value()</text><text x="2066" y="1969">-</text><text x="2081" y="1969">execute_actions()</text><text x="2066" y="1989">-</text><text x="2081" y="1989">load_rules()</text></g>
<g id="n_sp_index_db"><rect class="b" x="2472" y="1758" width="173" height="95"/><text class="t" x="2558" y="1774">std::shared_ptr&lt; kcenon</text><text class="t" x="2558" y="1790">::pacs::storage::index</text><text class="t" x="2558" y="1806">_database &gt;</text><line class="d" x1="2472" y1="1809" x2="2645" y2="1809"/><line class="d" x1="2472" y1="1829" x2="2645" y2="1829"/><text x="2493" y="1846">+</text><text x="2526" y="1846">operator-&gt;()</text></g>
<g id="n_file_storage"><rect class="r" x="3059" y="1607" width="169" height="399"/><text class="t" x="3143" y="1623">kcenon::pacs::storage</text><text class="t" x="3143" y="1640">::file_storage</text><line class="dr" x1="3059" y1="1644" x2="3228" y2="1644"/><line class="dr" x1="3059" y1="1664" x2="3228" y2="1664"/>
<text x="3065" y="1679">+</text><text x="3082" y="1679">file_storage()</text><text x="3065" y="1699">+</text><text x="3082" y="1699">~file_storage()</text><text x="3065" y="1719">+</text><text x="3082" y="1719">file_storage()</text><text x="3065" y="1739">+</text><text x="3082" y="1739">operator=()</text><text x="3065" y="1759">+</text><text x="3082" y="1759">file_storage()</text><text x="3065" y="1779">+</text><text x="3082" y="1779">operator=()</text><text x="3065" y="1799">+</text><text x="3082" y="1799">store()</text><text x="3065" y="1819">+</text><text x="3082" y="1819">retrieve()</text><text x="3065" y="1839">+</text><text x="3082" y="1839">remove()</text><text x="3065" y="1859">+</text><text x="3082" y="1859">exists()</text><text x="3082" y="1879">and 7 more...</text><text x="3067" y="1899">-</text><text x="3082" y="1899">build_path()</text><text x="3067" y="1919">-</text><text x="3082" y="1919">build_date_path()</text><text x="3067" y="1939">-</text><text x="3082" y="1939">update_index()</text><text x="3067" y="1959">-</text><text x="3082" y="1959">remove_from_index()</text><text x="3067" y="1979">-</text><text x="3082" y="1979">matches_query()</text><text x="3067" y="1999">-</text><text x="3082" y="1999">sanitize_uid()</text></g>
<g id="n_health_checker_config"><rect class="b" x="3619" y="1707" width="216" height="200"/><text class="t" x="3727" y="1723">kcenon::pacs::monitoring</text><text class="t" x="3727" y="1740">::health_checker_config</text><line class="d" x1="3619" y1="1744" x2="3835" y2="1744"/><line class="d" x1="3619" y1="1884" x2="3835" y2="1884"/>
<text x="3625" y="1759">+</text><text x="3641" y="1759">check_interval</text><text x="3625" y="1779">+</text><text x="3641" y="1779">database_timeout</text><text x="3625" y="1799">+</text><text x="3641" y="1799">storage_timeout</text><text x="3625" y="1819">+</text><text x="3641" y="1819">storage_warning_threshold</text><text x="3625" y="1839">+</text><text x="3641" y="1839">storage_critical_threshold</text><text x="3625" y="1859">+</text><text x="3641" y="1859">cache_duration</text><text x="3625" y="1879">+</text><text x="3641" y="1879">background_checks_enabled</text></g>
<g id="n_health_status"><rect class="r" x="3859" y="1727" width="178" height="160"/><text class="t" x="3948" y="1743">kcenon::pacs::monitoring</text><text class="t" x="3948" y="1760">::health_status</text><line class="dr" x1="3859" y1="1764" x2="4037" y2="1764"/><line class="dr" x1="3859" y1="1824" x2="4037" y2="1824"/>
<text x="3876" y="1779">+</text><text x="3905" y="1779">level</text><text x="3876" y="1799">+</text><text x="3905" y="1799">timestamp</text><text x="3876" y="1819">+</text><text x="3905" y="1819">message</text><text x="3876" y="1839">+</text><text x="3905" y="1839">update_level()</text><text x="3876" y="1859">+</text><text x="3905" y="1859">is_healthy()</text><text x="3876" y="1879">+</text><text x="3905" y="1879">is_operational()</text></g>
<g id="n_atomic_u16"><rect class="b" x="2763" y="2131" width="199" height="64"/><text class="t" x="2862" y="2148">std::atomic&lt; std::uint16_t &gt;</text><line class="d" x1="2763" y1="2154" x2="2962" y2="2154"/><line class="d" x1="2763" y1="2174" x2="2962" y2="2174"/><text x="2808" y="2169">+</text><text x="2862" y="2169">ptr</text></g>
<g id="n_health_checker"><rect class="b" x="3511" y="2220" width="178" height="340"/><text class="t" x="3600" y="2236">kcenon::pacs::monitoring</text><text class="t" x="3600" y="2253">::health_checker</text><line class="d" x1="3511" y1="2258" x2="3689" y2="2258"/><line class="d" x1="3511" y1="2278" x2="3689" y2="2278"/>
<text x="3521" y="2273">-</text><text x="3536" y="2273">last_check_time_</text>
<text x="3519" y="2293">+</text><text x="3536" y="2293">health_checker()</text><text x="3519" y="2313">+</text><text x="3536" y="2313">health_checker()</text><text x="3519" y="2333">+</text><text x="3536" y="2333">~health_checker()</text><text x="3519" y="2353">+</text><text x="3536" y="2353">health_checker()</text><text x="3519" y="2373">+</text><text x="3536" y="2373">operator=()</text><text x="3519" y="2393">+</text><text x="3536" y="2393">health_checker()</text><text x="3519" y="2413">+</text><text x="3536" y="2413">operator=()</text><text x="3519" y="2433">+</text><text x="3536" y="2433">set_database()</text><text x="3519" y="2453">+</text><text x="3536" y="2453">set_storage()</text><text x="3519" y="2473">+</text><text x="3536" y="2473">register_check()</text><text x="3536" y="2493">and 11 more...</text><text x="3521" y="2513">-</text><text x="3536" y="2513">check_database()</text><text x="3521" y="2533">-</text><text x="3536" y="2533">check_storage()</text><text x="3521" y="2553">-</text><text x="3536" y="2553">run_custom_checks()</text></g>
<g id="n_sp_acm"><rect class="b" x="780" y="2342" width="173" height="95"/><text class="t" x="866" y="2358">std::shared_ptr&lt; kcenon</text><text class="t" x="866" y="2374">::pacs::security::access</text><text class="t" x="866" y="2390">_control_manager &gt;</text><line class="d" x1="780" y1="2393" x2="953" y2="2393"/><line class="d" x1="780" y1="2413" x2="953" y2="2413"/><text x="801" y="2430">+</text><text x="834" y="2430">operator-&gt;()</text></g>
<g id="n_sp_dicom"><rect class="b" x="1391" y="2342" width="173" height="95"/><text class="t" x="1477" y="2358">std::shared_ptr&lt; kcenon</text><text class="t" x="1477" y="2374">::pacs::network::dicom</text><text class="t" x="1477" y="2390">_server &gt;</text><line class="d" x1="1391" y1="2393" x2="1564" y2="2393"/><line class="d" x1="1391" y1="2413" x2="1564" y2="2413"/><text x="1412" y="2430">+</text><text x="1445" y="2430">operator-&gt;()</text></g>
<g id="n_sp_routing"><rect class="b" x="1647" y="2342" width="173" height="95"/><text class="t" x="1733" y="2358">std::shared_ptr&lt; kcenon</text><text class="t" x="1733" y="2374">::pacs::client::routing</text><text class="t" x="1733" y="2390">_manager &gt;</text><line class="d" x1="1647" y1="2393" x2="1820" y2="2393"/><line class="d" x1="1647" y1="2413" x2="1820" y2="2413"/><text x="1668" y="2430">+</text><text x="1701" y="2430">operator-&gt;()</text></g>
<g id="n_sp_file_storage"><rect class="b" x="2224" y="2342" width="173" height="95"/><text class="t" x="2310" y="2358">std::shared_ptr&lt; kcenon</text><text class="t" x="2310" y="2374">::pacs::storage::file</text><text class="t" x="2310" y="2390">_storage &gt;</text><line class="d" x1="2224" y1="2393" x2="2397" y2="2393"/><line class="d" x1="2224" y1="2413" x2="2397" y2="2413"/><text x="2245" y="2430">+</text><text x="2278" y="2430">operator-&gt;()</text></g>
<g id="n_unique_ptr_crow"><rect class="b" x="96" y="2584" width="158" height="80"/><text class="t" x="175" y="2600">std::unique_ptr&lt; crow</text><text class="t" x="175" y="2617">::SimpleApp &gt;</text><line class="d" x1="96" y1="2622" x2="254" y2="2622"/><line class="d" x1="96" y1="2642" x2="254" y2="2642"/><text x="112" y="2637">+</text><text x="139" y="2637">ptr</text><text x="112" y="2658">+</text><text x="139" y="2658">operator-&gt;()</text></g>
<g id="n_oauth2"><rect class="r" x="688" y="2688" width="180" height="314"/><text x="696" y="2704">kcenon::pacs::web::</text><text x="696" y="2721">auth::oauth2_middleware</text><line class="dr" x1="688" y1="2726" x2="868" y2="2726"/><line class="dr" x1="688" y1="2746" x2="868" y2="2746"/>
<text x="695" y="2761">+</text><text x="712" y="2761">oauth2_middleware()</text><text x="695" y="2781">+</text><text x="712" y="2781">set_jwks_provider()</text><text x="695" y="2801">+</text><text x="712" y="2801">set_access_control</text><text x="712" y="2816">_manager()</text><text x="695" y="2836">+</text><text x="712" y="2836">authenticate()</text><text x="695" y="2856">+</text><text x="712" y="2856">require_scope()</text><text x="695" y="2876">+</text><text x="712" y="2876">require_any_scope()</text><text x="695" y="2896">+</text><text x="712" y="2896">enabled()</text><text x="695" y="2916">+</text><text x="712" y="2916">validator()</text><text x="697" y="2936">-</text><text x="712" y="2936">extract_bearer_token()</text><text x="697" y="2956">-</text><text x="712" y="2956">verify_signature()</text><text x="697" y="2976">-</text><text x="712" y="2976">set_unauthorized()</text><text x="697" y="2996">-</text><text x="712" y="2996">set_forbidden()</text></g>
<g id="n_sp_health_checker"><rect class="b" x="2607" y="2798" width="180" height="95"/><text class="t" x="2697" y="2814">std::shared_ptr&lt; kcenon</text><text class="t" x="2697" y="2830">::pacs::monitoring::health</text><text class="t" x="2697" y="2846">_checker &gt;</text><line class="d" x1="2607" y1="2849" x2="2787" y2="2849"/><line class="d" x1="2607" y1="2869" x2="2787" y2="2869"/><text x="2628" y="2886">+</text><text x="2662" y="2886">operator-&gt;()</text></g>
<g id="n_sp_db_metrics"><rect class="b" x="1767" y="3026" width="180" height="94"/><text class="t" x="1857" y="3042">std::shared_ptr&lt; services</text><text class="t" x="1857" y="3058">::monitoring::database</text><text class="t" x="1857" y="3074">_metrics_service &gt;</text><line class="d" x1="1767" y1="3078" x2="1947" y2="3078"/><line class="d" x1="1767" y1="3099" x2="1947" y2="3099"/><text x="1776" y="3094">+</text><text x="1808" y="3094">ptr</text><text x="1776" y="3115">+</text><text x="1808" y="3115">operator-&gt;()</text></g>
<g id="n_rest_server_config"><rect class="b" x="2933" y="3145" width="195" height="180"/><text class="t" x="3030" y="3161">kcenon::pacs::web::</text><text class="t" x="3030" y="3178">rest_server_config</text><line class="d" x1="2933" y1="3183" x2="3128" y2="3183"/><line class="d" x1="2933" y1="3303" x2="3128" y2="3303"/>
<text x="2940" y="3198">+</text><text x="2956" y="3198">port</text><text x="2940" y="3218">+</text><text x="2956" y="3218">concurrency</text><text x="2940" y="3238">+</text><text x="2956" y="3238">enable_cors</text><text x="2940" y="3258">+</text><text x="2956" y="3258">enable_tls</text><text x="2940" y="3278">+</text><text x="2956" y="3278">request_timeout_seconds</text><text x="2940" y="3298">+</text><text x="2956" y="3298">max_body_size</text></g>
<g id="n_sp_oauth2"><rect class="b" x="689" y="3188" width="178" height="95"/><text class="t" x="778" y="3204">std::shared_ptr&lt; kcenon</text><text class="t" x="778" y="3220">::pacs::web::auth::oauth2</text><text class="t" x="778" y="3236">_middleware &gt;</text><line class="d" x1="689" y1="3239" x2="867" y2="3239"/><line class="d" x1="689" y1="3259" x2="867" y2="3259"/><text x="710" y="3276">+</text><text x="744" y="3276">operator-&gt;()</text></g>
<g id="n_rest_server_context"><rect class="b" x="1562" y="3387" width="142" height="80"/><text class="t" x="1633" y="3403">kcenon::pacs::web::</text><text class="t" x="1633" y="3420">rest_server_context</text><line class="d" x1="1562" y1="3425" x2="1704" y2="3425"/><line class="d" x1="1562" y1="3446" x2="1704" y2="3446"/></g>
<g id="n_sp_rsc"><rect class="b" x="793" y="3530" width="174" height="95"/><text class="t" x="880" y="3546">std::shared_ptr&lt; kcenon</text><text class="t" x="880" y="3562">::pacs::web::rest_server</text><text class="t" x="880" y="3578">_context &gt;</text><line class="d" x1="793" y1="3581" x2="967" y2="3581"/><line class="d" x1="793" y1="3601" x2="967" y2="3601"/><text x="814" y="3618">+</text><text x="848" y="3618">operator-&gt;()</text></g>
<g id="n_thread"><rect class="b" x="2857" y="3545" width="83" height="66"/><text class="t" x="2898" y="3562">std::thread</text><line class="d" x1="2857" y1="3569" x2="2940" y2="3569"/><line class="d" x1="2857" y1="3589" x2="2940" y2="3589"/></g>
<g id="n_impl"><rect class="g" x="2350" y="3687" width="142" height="99"/><text class="t" x="2421" y="3703">kcenon::pacs::web::</text><text class="t" x="2421" y="3720">rest_server::impl</text><line class="d" x1="2350" y1="3725" x2="2492" y2="3725"/><line class="d" x1="2350" y1="3745" x2="2492" y2="3745"/><text x="2376" y="3761">+</text><text x="2410" y="3761">impl()</text><text x="2376" y="3781">+</text><text x="2410" y="3781">impl()</text></g>
</svg>
